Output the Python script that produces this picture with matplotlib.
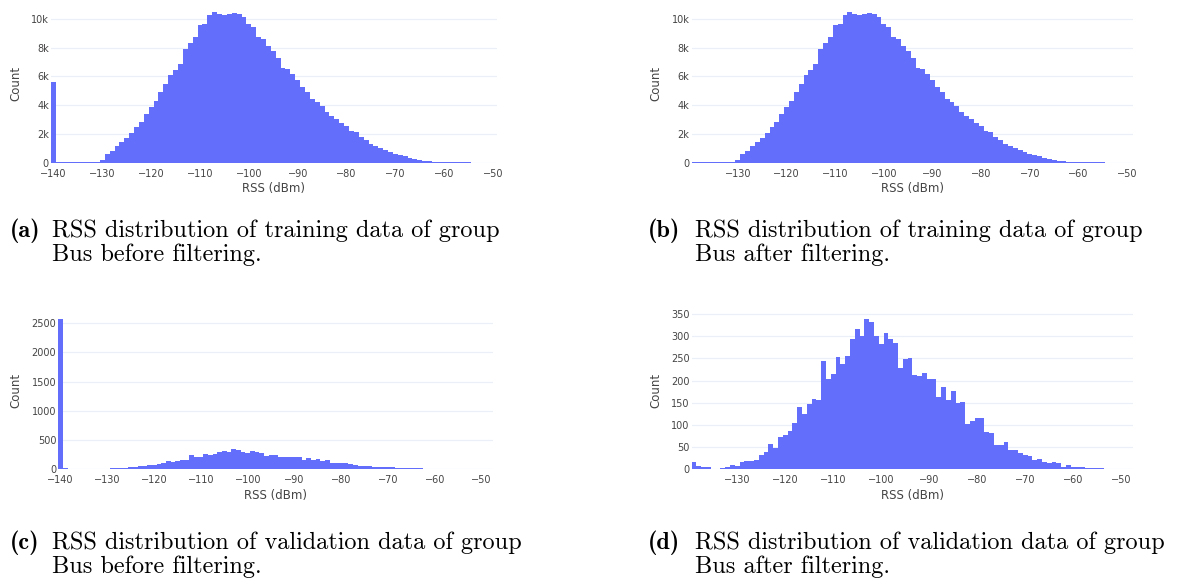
import numpy as np
import matplotlib
matplotlib.use("Agg")
import matplotlib.pyplot as plt
from matplotlib.ticker import FixedLocator, FuncFormatter

# ---------------------------------------------------------------- data
# RSS bins are 1 dBm wide and centred on integer dBm values.
train_fill_bin = -140          # placeholder value present before filtering
train_fill_count = 5600
train_start = -139
train_counts = [
    15, 15, 20, 20, 25, 30, 35, 45, 60, 160,            # -139 .. -130
    630, 810, 1140, 1420, 1720, 2090, 2500, 2830, 3410, 3850,   # -129 .. -120
    4320, 4940, 5480, 6080, 6430, 6840, 7930, 8310, 8700, 9560,  # -119 .. -110
    9630, 10280, 10460, 10350, 10260, 10330, 10390, 10330, 10120, 9610,  # -109 .. -100
    9420, 8750, 8580, 8120, 7770, 7240, 6590, 6520, 6130, 5730,  # -99 .. -90
    5290, 4900, 4450, 4200, 3920, 3530, 3270, 3040, 2760, 2580,  # -89 .. -80
    2230, 2130, 1810, 1550, 1320, 1180, 1040, 880, 740, 580,     # -79 .. -70
    510, 440, 350, 280, 210, 140, 90, 70, 50, 40,                # -69 .. -60
    35, 30, 25, 20, 15, 10,                                      # -59 .. -54
]

val_fill_bin = -140
val_fill_count = 2575
val_start = -139
val_counts = [
    17, 8, 5, 5, 1, 1, 4, 6, 10, 8,                  # -139 .. -130
    16, 18, 19, 21, 32, 40, 56, 48, 72, 77,          # -129 .. -120
    86, 105, 140, 124, 147, 158, 155, 244, 203, 215,  # -119 .. -110
    254, 237, 255, 293, 315, 301, 339, 331, 300, 283,  # -109 .. -100
    308, 294, 285, 228, 248, 250, 213, 211, 217, 204,  # -99 .. -90
    203, 163, 185, 156, 177, 149, 152, 103, 108, 115,  # -89 .. -80
    116, 83, 81, 55, 54, 62, 44, 43, 36, 32,          # -79 .. -70
    31, 20, 23, 17, 15, 17, 14, 6, 10, 5,             # -69 .. -60
    5, 6, 2, 2, 2, 2, 1, 1, 1, 1, 1, 1,               # -59 .. -48
]

x_ticks_all = [-140, -130, -120, -110, -100, -90, -80, -70, -60, -50]

captions = [
    ("(a)", "RSS distribution of training data of group", "Bus before filtering."),
    ("(b)", "RSS distribution of training data of group", "Bus after filtering."),
    ("(c)", "RSS distribution of validation data of group", "Bus before filtering."),
    ("(d)", "RSS distribution of validation data of group", "Bus after filtering."),
]

# ---------------------------------------------------------------- style
BAR = "#636efa"
GRID = "#ebf0f8"
TXT = "#444444"
SANS = ["DejaVu Sans"]

W, H = 1181, 584
fig = plt.figure(figsize=(W / 100, H / 100), dpi=100)
fig.patch.set_facecolor("white")


def box(left, top, right, bottom):
    return fig.add_axes([left / W, 1 - bottom / H, (right - left) / W, (bottom - top) / H])


def k_fmt(v, _):
    if v == 0:
        return "0"
    return f"{v / 1000:g}k"


def plain_fmt(v, _):
    return f"{v:g}"


def hist_panel(ax, centers, counts, xlim, yticks, yfmt):
    ax.bar(centers, counts, width=1.0, color=BAR, linewidth=0, align="center", zorder=2)
    ax.set_xlim(*xlim)
    ax.set_ylim(0, max(counts) * 1.05)
    ax.yaxis.set_major_locator(FixedLocator(yticks))
    ax.yaxis.set_major_formatter(FuncFormatter(yfmt))
    ax.xaxis.set_major_locator(FixedLocator(x_ticks_all))
    ax.xaxis.set_major_formatter(FuncFormatter(lambda v, _: f"\u2212{abs(int(v))}"))
    ax.grid(axis="y", color=GRID, linewidth=0.9, zorder=0)
    ax.set_axisbelow(True)
    for s in ax.spines.values():
        s.set_visible(False)
    ax.tick_params(axis="both", length=0, labelsize=7, labelcolor=TXT)
    ax.tick_params(axis="x", pad=4.2)
    ax.tick_params(axis="y", pad=1.5)
    for lab in ax.get_xticklabels() + ax.get_yticklabels():
        lab.set_fontfamily(SANS)
    ax.set_xlabel("RSS (dBm)", fontsize=8.5, color=TXT, family=SANS, labelpad=2.5)
    ax.set_ylabel("Count", fontsize=8.5, color=TXT, family=SANS, labelpad=6.5)


train_centers = train_start + np.arange(len(train_counts))
val_centers = val_start + np.arange(len(val_counts))

a_centers = np.concatenate([[train_fill_bin], train_centers])
a_counts = np.concatenate([[train_fill_count], train_counts])
c_centers = np.concatenate([[val_fill_bin], val_centers])
c_counts = np.concatenate([[val_fill_count], val_counts])

ax_a = box(51, 4.6, 497, 162.7)
hist_panel(ax_a, a_centers, a_counts, (-140.5, -49.2),
           [0, 2000, 4000, 6000, 8000, 10000], k_fmt)

ax_b = box(691.7, 4.6, 1133, 162.7)
hist_panel(ax_b, train_centers, train_counts, (-139.5, -48.8),
           [0, 2000, 4000, 6000, 8000, 10000], k_fmt)

ax_c = box(58.3, 311.3, 493.3, 469.3)
hist_panel(ax_c, c_centers, c_counts, (-140.5, -47.5),
           [0, 500, 1000, 1500, 2000, 2500], plain_fmt)

ax_d = box(691.7, 311.3, 1133.3, 469.3)
hist_panel(ax_d, val_centers, val_counts, (-139.5, -47.5),
           [0, 50, 100, 150, 200, 250, 300, 350], plain_fmt)

# ---------------------------------------------------------------- captions
cap_pos = [(10, 52, 231), (648, 695, 231), (10, 52, 543), (648, 695, 543)]
CAP_SIZE = 17.5
LINE_GAP = 24
for (tag, l1, l2), (xt, xs, yc) in zip(captions, cap_pos):
    fig.text(xt / W, 1 - yc / H, tag, family="cmb10", fontsize=CAP_SIZE,
             ha="left", va="center", color="black")
    fig.text(xs / W, 1 - yc / H, l1, family="cmr10", fontsize=CAP_SIZE,
             ha="left", va="center", color="black")
    fig.text(xs / W, 1 - (yc + LINE_GAP) / H, l2, family="cmr10", fontsize=CAP_SIZE,
             ha="left", va="center", color="black")

fig.savefig("out.png", dpi=100, facecolor="white")
